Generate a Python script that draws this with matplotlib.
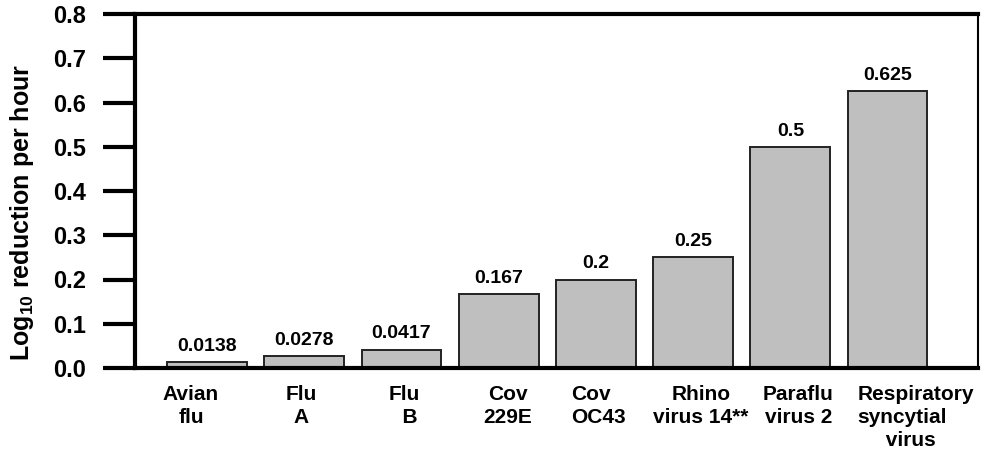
import matplotlib.pyplot as plt
from matplotlib.transforms import ScaledTranslation

plt.rcParams['font.family'] = ['Liberation Sans', 'DejaVu Sans']
plt.rcParams['font.weight'] = 'bold'
plt.rcParams['mathtext.fontset'] = 'custom'
plt.rcParams['mathtext.bf'] = 'Liberation Sans:bold'
plt.rcParams['mathtext.rm'] = 'Liberation Sans:bold'
plt.rcParams['mathtext.default'] = 'bf'

categories = [
    "Avian\nflu",
    "Flu\nA",
    "Flu\n  B",
    "Cov\n229E",
    "Cov\nOC43",
    "Rhino\nvirus 14**",
    "Paraflu\nvirus 2",
    "Respiratory\nsyncytial\n     virus",
]
values = [0.0138, 0.0278, 0.0417, 0.167, 0.2, 0.25, 0.5, 0.625]
value_labels = ["0.0138", "0.0278", "0.0417", "0.167", "0.2", "0.25", "0.5", "0.625"]
yticks = [0.0, 0.1, 0.2, 0.3, 0.4, 0.5, 0.6, 0.7, 0.8]

# small horizontal nudges (pixels) of the category labels, as in the original figure
label_shift = [-16, -3, 3, 9, 3, 8, 8, 28]
label_align = ["center", "center", "center", "center", "left", "center", "center", "left"]

fig = plt.figure(figsize=(9.85, 4.55), dpi=100)
ax = fig.add_axes([135 / 985, 1 - 368 / 455, (978 - 135) / 985, (368 - 14) / 455])

x = range(len(values))
ax.bar(x, values, width=0.82, color="#bfbfbf", edgecolor="#222222", linewidth=1.4)

for xi, v, lab in zip(x, values, value_labels):
    ax.text(xi, v + 0.016, lab, ha="center", va="bottom", fontsize=14, fontweight="bold")

ax.set_xlim(-0.74, 7.93)
ax.set_ylim(0, 0.8)
ax.set_yticks(yticks)
ax.set_yticklabels([f"{t:.1f}" for t in yticks], fontsize=17, fontweight="bold")
ax.set_xticks(list(x))
ax.set_xticklabels(categories, fontsize=15, fontweight="bold", linespacing=1.28)
ax.tick_params(axis="x", length=0, pad=12)
ax.tick_params(axis="y", direction="out", length=23, width=3, pad=12)

for lbl, dx, al in zip(ax.get_xticklabels(), label_shift, label_align):
    lbl.set_multialignment(al)
    lbl.set_transform(lbl.get_transform() + ScaledTranslation(dx / 100, 0, fig.dpi_scale_trans))

fig.text(22 / 985, 1 - 212 / 455, "Log$_{10}$ reduction per hour", rotation=90,
         ha="center", va="center", fontsize=18, fontweight="bold")

for side in ["left", "bottom", "top"]:
    ax.spines[side].set_linewidth(3)
ax.spines["right"].set_linewidth(1.5)

fig.savefig("out.png", dpi=100)
